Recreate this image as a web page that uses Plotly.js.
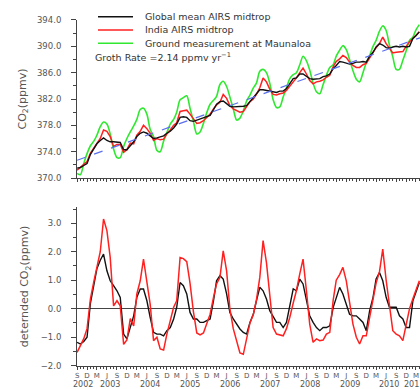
<!DOCTYPE html>
<html><head><meta charset="utf-8">
<script src="https://cdn.plot.ly/plotly-3.0.1.min.js"></script>
<style>html,body{margin:0;padding:0;background:#fff;overflow:hidden}</style>
</head><body><div id="chart" style="width:420px;height:389px"></div>
<script>
// Monthly series, Sep 2002 .. Apr 2011
const startYear = 2002, startMonth = 9, nMonths = 104;
const monthLetters = {9:'S',12:'D',3:'M',6:'J'};
const yearLabels = ['2002','2003','2004','2005','2006','2007','2008','2009','2010','2011'];

const groundMaunaloa = [370.7,370.5,372.2,373.7,
 374.9,375.6,376.5,377.8,378.5,378.2,376.7,374.4,373.1,373.1,374.8,376.0,
 377.0,377.9,378.9,380.4,380.6,379.7,377.4,376.3,374.2,374.0,375.6,376.9,
 378.2,378.9,380.0,381.9,382.2,382.5,380.6,378.6,376.7,377.0,378.3,379.9,
 381.2,381.8,382.4,384.2,384.7,383.9,382.3,380.5,378.8,379.1,380.2,381.7,
 382.6,383.7,384.4,386.2,386.5,386.0,384.4,381.9,380.7,380.8,382.3,383.7,
 385.1,385.7,386.0,387.2,388.5,387.8,386.4,384.4,383.1,382.8,384.2,385.6,
 386.8,387.2,388.5,389.4,390.1,389.5,388.0,386.3,385.0,384.6,386.0,387.5,
 388.6,390.0,390.9,392.3,393.1,392.4,390.2,388.4,386.5,386.5,387.9,389.3,
 390.9,391.4,392.5,393.3];

const indiaAirs = [371.2,371.6,372.0,372.5,373.8,374.6,375.2,376.0,377.3,377.1,
 376.3,374.8,375.1,375.1,373.9,374.3,375.3,375.2,376.5,377.1,
 378.0,377.5,376.8,375.7,376.0,375.8,375.9,376.7,377.3,378.0,
 378.4,380.1,380.2,380.3,379.7,378.9,378.3,378.4,378.7,379.2,
 379.7,380.5,381.1,381.5,382.7,382.1,381.0,380.5,380.2,380.0,
 380.1,380.8,381.6,382.0,382.7,383.7,385.2,384.6,383.5,382.7,
 382.6,382.8,382.9,383.3,383.9,384.6,385.2,386.0,386.7,385.8,
 384.8,384.3,384.6,384.7,384.9,385.3,385.6,386.9,387.7,388.1,
 388.6,388.3,387.6,387.1,386.8,386.8,387.2,387.4,388.2,389.1,
 389.8,390.4,391.4,390.4,389.7,389.0,389.1,389.2,389.2,390.0,
 390.7,391.2,391.7,392.2];

const globalAirs = [371.5,371.6,371.9,372.2,373.6,374.5,375.2,375.7,376.1,375.7,
 375.5,375.5,375.5,375.4,374.3,374.3,374.9,375.5,376.3,376.8,
 377.0,376.8,376.4,376.0,376.1,376.3,376.4,376.8,377.1,377.6,
 378.2,379.2,379.3,379.2,378.7,378.6,378.8,378.9,379.1,379.3,
 379.5,380.4,381.2,381.6,381.7,381.3,380.9,380.8,380.8,380.8,
 380.9,381.0,381.6,382.1,382.7,383.4,383.4,383.3,383.1,383.0,
 383.0,383.2,383.2,383.6,384.4,385.1,385.2,385.8,385.8,385.4,
 385.1,385.0,385.0,385.1,385.4,385.5,385.8,386.6,387.1,387.7,
 387.6,387.4,387.3,387.4,387.6,387.6,387.7,387.6,388.5,389.1,
 389.9,390.4,390.2,389.8,389.7,389.9,390.0,389.9,390.0,389.9,
 390.0,391.2,391.6,392.2];

const indiaDetrended = [-1.53,-1.3,-1.05,-0.7,0.35,0.95,1.4,2.0,3.15,2.74,
 1.8,0.1,0.28,0.1,-1.25,-1.1,-0.35,-0.6,0.52,0.98,
 1.74,0.98,0.16,-1.12,-1.0,-1.41,-1.45,-0.89,-0.4,0.05,
 0.28,1.8,1.76,1.65,0.9,-0.1,-0.85,-0.92,-0.85,-0.5,
 -0.19,0.4,0.87,1.1,2.03,1.33,0.0,-0.7,-1.12,-1.55,
 -1.6,-1.1,-0.5,-0.2,0.3,1.1,2.39,1.62,0.4,-0.66,
 -0.89,-0.92,-0.95,-0.7,-0.3,0.2,0.63,1.22,1.74,0.63,
 -0.54,-1.18,-1.06,-1.12,-1.1,-0.89,-0.83,0.3,1.0,1.2,
 1.45,0.98,0.16,-0.54,-1.0,-1.24,-0.95,-0.95,-0.3,0.4,
 0.9,1.3,2.09,1.0,0.1,-0.77,-0.89,-0.95,-1.12,-0.54,
 0.0,0.35,0.63,0.98];

const globalDetrended = [-1.18,-1.24,-1.15,-1.0,0.2,0.9,1.4,1.7,1.92,1.33,
 0.98,0.81,0.63,0.4,-0.89,-1.06,-0.66,-0.25,0.4,0.69,
 0.69,0.28,-0.3,-0.83,-0.89,-0.89,-0.95,-0.77,-0.66,-0.36,
 0.05,0.92,0.81,0.52,-0.13,-0.36,-0.36,-0.48,-0.48,-0.42,
 -0.36,0.28,0.98,1.16,1.04,0.52,-0.13,-0.36,-0.54,-0.71,
 -0.83,-0.89,-0.48,-0.19,0.28,0.75,0.63,0.34,-0.07,-0.3,
 -0.48,-0.48,-0.66,-0.48,0.16,0.7,0.63,1.04,0.87,0.28,
 -0.25,-0.48,-0.66,-0.77,-0.66,-0.66,-0.6,0.05,0.4,0.75,
 0.52,0.16,-0.19,-0.25,-0.25,-0.36,-0.48,-0.77,-0.07,0.4,
 1.04,1.27,0.98,0.4,0.05,0.05,0.05,-0.25,-0.36,-0.66,
 -0.66,0.28,0.57,0.92];

const trendDates = ['2002-09-01','2011-04-07'];
const trendValues = [372.7, 391.3];
const growthRate = 2.14;

// month dates
function pad(n){return (n<10?'0':'')+n;}
const dates = [];
for (let k=0;k<nMonths;k++){
  const m0 = startMonth-1+k;
  dates.push((startYear+Math.floor(m0/12))+'-'+pad(m0%12+1)+'-01');
}
const tickvals=[], ticktext=[];
dates.forEach(d=>{const m=+d.slice(5,7); if(monthLetters[m]){tickvals.push(d);ticktext.push(monthLetters[m]);}});

const FONT = 'DejaVu Sans, sans-serif';
const TXT = '#555';
const AX = '#444';
const xrange = ['2002-08-31','2011-04-07'];

const traces = [
 {x:dates,y:groundMaunaloa,type:'scatter',mode:'lines',line:{color:'#2fe82f',width:1.6,shape:'spline',smoothing:0.8},xaxis:'x',yaxis:'y',name:'Ground measurement at Maunaloa'},
 {x:dates,y:indiaAirs,type:'scatter',mode:'lines',line:{color:'#ff2020',width:1.5},xaxis:'x',yaxis:'y',name:'India AIRS midtrop'},
 {x:dates,y:globalAirs,type:'scatter',mode:'lines',line:{color:'#111',width:1.4},xaxis:'x',yaxis:'y',name:'Global mean AIRS midtrop'},
 {x:trendDates,y:trendValues,type:'scatter',mode:'lines',line:{color:'#5a6ef0',width:1.2,dash:'dash'},xaxis:'x',yaxis:'y',name:'trend'},
 {x:dates,y:globalDetrended,type:'scatter',mode:'lines',line:{color:'#111',width:1.4},xaxis:'x2',yaxis:'y2',name:'Global detrended'},
 {x:dates,y:indiaDetrended,type:'scatter',mode:'lines',line:{color:'#ff2020',width:1.5},xaxis:'x2',yaxis:'y2',name:'India detrended'}
];

const commonX = {type:'date',range:xrange,showgrid:false,zeroline:false,showline:true,linecolor:AX,linewidth:1,
  ticks:'outside',tickvals:tickvals,ticktext:ticktext,ticklen:3,tickcolor:AX,tickwidth:1,
  minor:{dtick:'M1',tick0:'2002-09-01',ticks:'outside',ticklen:2,tickcolor:AX,tickwidth:1},
  tickfont:{family:FONT,size:7,color:TXT}};

const layout = {
  width:420,height:389,margin:{l:77,r:0,t:0,b:0},paper_bgcolor:'#fff',plot_bgcolor:'#fff',
  showlegend:false,font:{family:FONT,color:TXT},
  xaxis:Object.assign({},commonX,{anchor:'y',showticklabels:false}),
  xaxis2:Object.assign({},commonX,{anchor:'y2',showticklabels:true}),
  yaxis:{domain:[0.5424,0.9486],range:[370,394],tick0:370,dtick:4,tickformat:'.1f',showgrid:false,zeroline:false,
    showline:true,linecolor:AX,ticks:'outside',ticklen:5,tickcolor:AX,ticklabelstandoff:8,
    minor:{dtick:2,ticks:'outside',ticklen:3,tickcolor:AX},
    tickfont:{family:FONT,size:8.5,color:TXT},
    title:{text:'CO<sub>2</sub>(ppmv)',font:{family:FONT,size:11,color:TXT},standoff:8}},
  yaxis2:{domain:[0.0599,0.4671],range:[-2,3.56],tick0:0,dtick:1,tickformat:'.1f',showgrid:false,
    zeroline:true,zerolinecolor:AX,zerolinewidth:1,
    showline:true,linecolor:AX,ticks:'outside',ticklen:5,tickcolor:AX,ticklabelstandoff:8,
    minor:{dtick:0.5,ticks:'outside',ticklen:3,tickcolor:AX},
    tickfont:{family:FONT,size:8.5,color:TXT},
    title:{text:'deternded CO<sub>2</sub>(ppmv)',font:{family:FONT,size:11,color:TXT},standoff:9}},
  shapes:[],annotations:[]
};

// legend drawn as sample lines + labels
const legendItems = [
 {name:'Global mean AIRS midtrop',color:'#111'},
 {name:'India AIRS midtrop',color:'#ff2020'},
 {name:'Ground measurement at Maunaloa',color:'#2fe82f'}
];
legendItems.forEach((it,k)=>{
  const y = 0.9571 - k*0.0342;
  layout.shapes.push({type:'line',xref:'paper',yref:'paper',x0:0.0612,x1:0.1633,y0:y,y1:y,line:{color:it.color,width:1.5}});
  layout.annotations.push({xref:'paper',yref:'paper',x:0.1924,y:y,xanchor:'left',yanchor:'middle',showarrow:false,
    text:it.name,font:{family:FONT,size:9.5,color:'#333'}});
});
layout.annotations.push({xref:'paper',yref:'paper',x:0.0466,y:0.8542,xanchor:'left',yanchor:'middle',showarrow:false,
  text:'Groth Rate ='+growthRate.toFixed(2)+' ppmv yr<sup>−1</sup>',font:{family:FONT,size:9.5,color:'#333'}});

// year labels under month letters
yearLabels.forEach(y=>{
  let xd = y+'-07-01';
  if (y==='2002') xd='2002-10-22';
  if (y==='2011') xd='2011-02-14';
  layout.annotations.push({xref:'x2',yref:'paper',x:xd,y:0.0125,xanchor:'center',yanchor:'middle',showarrow:false,
    text:y,font:{family:FONT,size:8,color:TXT},borderpad:0});
});

Plotly.newPlot('chart',traces,layout,{staticPlot:true,displayModeBar:false});
</script></body></html>
